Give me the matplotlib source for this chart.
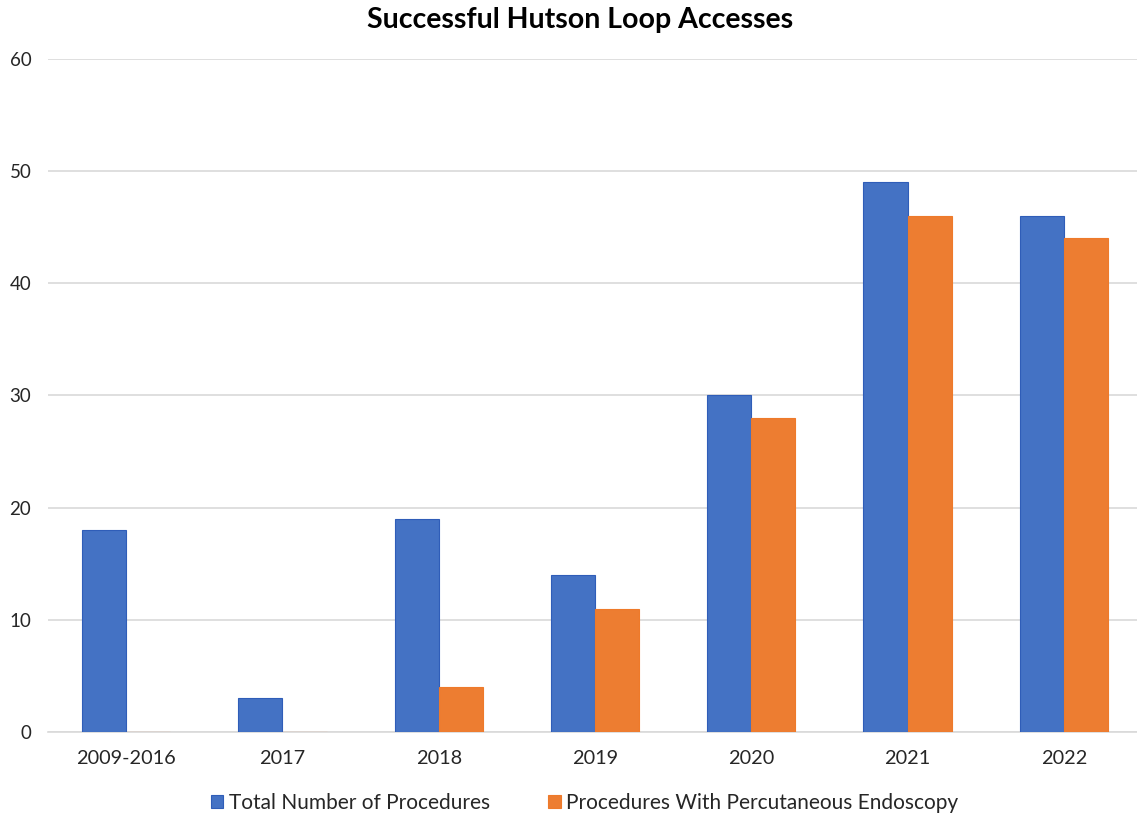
import matplotlib
matplotlib.use("Agg")
import matplotlib.pyplot as plt
import numpy as np

categories = ["2009-2016", "2017", "2018", "2019", "2020", "2021", "2022"]
total_procedures = [18, 3, 19, 14, 30, 49, 46]
percutaneous_endoscopy = [0, 0, 4, 11, 28, 46, 44]
y_ticks = [0, 10, 20, 30, 40, 50, 60]

plt.rcParams["font.family"] = ["Lato", "DejaVu Sans"]

fig = plt.figure(figsize=(11.37, 8.17), dpi=100)
ax = fig.add_axes([48 / 1137, 1 - 732 / 817, 1094 / 1137, (732 - 59) / 817])

x = np.arange(len(categories))
w = 0.282
blue = "#4472C4"
orange = "#ED7D31"
ax.bar(x - w / 2, total_procedures, width=w, color=blue, edgecolor="#2F5DB8",
       linewidth=0.8, label="Total Number of Procedures", zorder=3)
ax.bar(x + w / 2, percutaneous_endoscopy, width=w, color=orange, edgecolor="#EE7A2A",
       linewidth=0.8, label="Procedures With Percutaneous Endoscopy", zorder=3)

ax.set_xlim(-0.5, len(categories) - 0.5)
ax.set_ylim(0, 60)
ax.set_yticks(y_ticks)
ax.set_xticks(x)
ax.set_xticklabels(categories, fontsize=14.3, color="#262626")
ax.tick_params(axis="y", labelsize=13.5, colors="#262626", length=0, pad=12)
ax.tick_params(axis="x", length=0, pad=13)
ax.yaxis.grid(True, color="#D9D9D9", linewidth=1.2, zorder=0)
for s in ["top", "right", "left"]:
    ax.spines[s].set_visible(False)
ax.spines["bottom"].set_color("#D9D9D9")
ax.spines["bottom"].set_linewidth(1.2)

fig.text(0.51, 1 - 20 / 817, "Successful Hutson Loop Accesses", ha="center", va="center",
         fontsize=20.5, fontweight="bold", color="#000000")

leg = fig.legend(loc="center", bbox_to_anchor=(0.514, 1 - 803 / 817), ncol=2,
                 frameon=False, fontsize=15, handlelength=0.6, handleheight=0.6,
                 handletextpad=0.25, columnspacing=2.8)
for t in leg.get_texts():
    t.set_color("#262626")

fig.savefig("out.png", dpi=100)
